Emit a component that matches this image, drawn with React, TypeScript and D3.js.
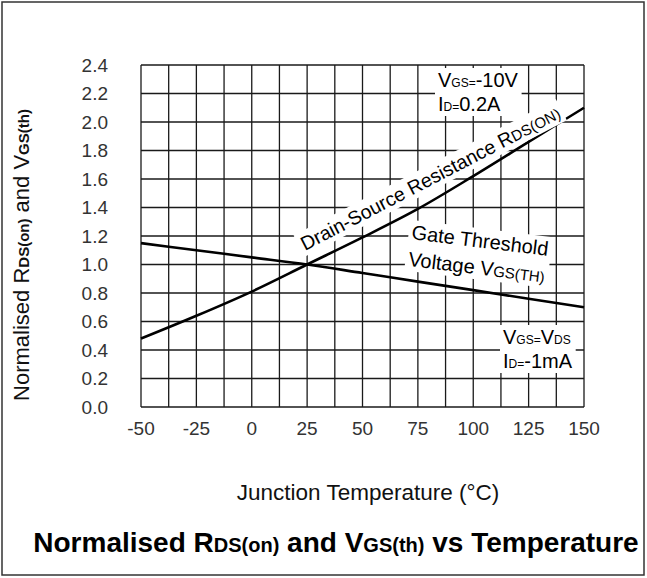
import { useRef, useEffect } from "react";
import * as d3 from "d3";

// temperature points (°C)
const temps = [-50, -25, 0, 25, 50, 75, 100, 125, 150];
// normalised Rds(on)
const rdsOn = [0.48, 0.64, 0.81, 1.0, 1.19, 1.39, 1.62, 1.86, 2.1];
// normalised Vgs(th)
const vgsTh = [1.15, 1.1, 1.05, 1.0, 0.94, 0.88, 0.82, 0.76, 0.7];

const xTicks = [-50, -25, 0, 25, 50, 75, 100, 125, 150];
const yTicks = [0, 0.2, 0.4, 0.6, 0.8, 1.0, 1.2, 1.4, 1.6, 1.8, 2.0, 2.2, 2.4];
const xGrid = d3.range(-50, 150.1, 12.5);

const W = 647;
const H = 578;
const left = 141, top = 65, right = 584, bottom = 407;
const font = "Liberation Sans, Arial, sans-serif";

export default function App() {
  const root = useRef<SVGSVGElement>(null);
  const x = d3.scaleLinear([-50, 150], [left, right]);
  const y = d3.scaleLinear([0, 2.4], [bottom, top]);
  const line = d3.line<number>().x((d, i) => x(temps[i])).y(d => y(d)).curve(d3.curveMonotoneX);

  // white boxes behind the annotations
  useEffect(() => {
    d3.select(root.current).selectAll<SVGGElement, unknown>("g.annot").each(function () {
      const g = d3.select(this);
      g.selectAll("rect.bg").remove();
      const txt = g.selectAll<SVGTextElement, unknown>("text").nodes();
      let x0 = Infinity, y0 = Infinity, x1 = -Infinity, y1 = -Infinity;
      txt.forEach(t => {
        const b = t.getBBox();
        x0 = Math.min(x0, b.x); y0 = Math.min(y0, b.y);
        x1 = Math.max(x1, b.x + b.width); y1 = Math.max(y1, b.y + b.height);
      });
      g.insert("rect", ":first-child").attr("class", "bg")
        .attr("x", x0 - 3).attr("y", y0 - 1)
        .attr("width", x1 - x0 + 6).attr("height", y1 - y0 + 2)
        .attr("fill", "#fff");
    });
  });

  return (
    <svg ref={root} width={W} height={H} style={{ position: "absolute", left: 0, top: 0 }} fontFamily={font}>
      <rect x={0} y={0} width={W} height={H} fill="#fff" />
      <rect x={2} y={2} width={W - 5} height={H - 5} fill="none" stroke="#333" strokeWidth={1.5} />

      {/* grid */}
      <g stroke="#1a1a1a" strokeWidth={1.3}>
        {xGrid.map(v => <line key={"gx" + v} x1={x(v)} x2={x(v)} y1={top} y2={bottom} />)}
        {yTicks.map(v => <line key={"gy" + v} x1={left} x2={right} y1={y(v)} y2={y(v)} />)}
      </g>

      {/* tick labels */}
      <g fontSize={19} fill="#333">
        {yTicks.map(v => (
          <text key={"ty" + v} x={108} y={y(v)} dy="0.35em" textAnchor="end">{d3.format(".1f")(v)}</text>
        ))}
        {xTicks.map(v => (
          <text key={"tx" + v} x={x(v)} y={435} textAnchor="middle">{v}</text>
        ))}
      </g>

      {/* curves */}
      <path d={line(rdsOn) ?? ""} fill="none" stroke="#000" strokeWidth={2.6} />
      <path d={line(vgsTh) ?? ""} fill="none" stroke="#000" strokeWidth={2.6} />

      {/* curve labels */}
      <g className="annot" transform="translate(305,251) rotate(-27.5)">
        <text x={0} y={0} fontSize={19.5} fill="#000">
          Drain-Source Resistance R<tspan fontSize={15}>DS(ON)</tspan>
        </text>
      </g>
      <g className="annot" transform="translate(411,239) rotate(7)">
        <text x={0} y={0} fontSize={20} fill="#000">Gate Threshold</text>
        <text x={0} y={27} fontSize={20} fill="#000">
          Voltage V<tspan fontSize={15}>GS(TH)</tspan>
        </text>
      </g>

      {/* conditions */}
      <g className="annot" fill="#000">
        <text x={438} y={87} fontSize={20}>V<tspan fontSize={12}>GS=</tspan>-10V</text>
        <text x={438} y={111} fontSize={20}>I<tspan fontSize={12}>D=</tspan>0.2A</text>
      </g>
      <g className="annot" fill="#000">
        <text x={503} y={344} fontSize={20}>V<tspan fontSize={12}>GS=</tspan>V<tspan fontSize={12}>DS</tspan></text>
        <text x={503} y={368} fontSize={20}>I<tspan fontSize={12}>D=</tspan>-1mA</text>
      </g>

      {/* axis titles */}
      <text transform="translate(29,255) rotate(-90)" textAnchor="middle" fontSize={22} fill="#111">
        Normalised R<tspan fontSize={15} fontWeight="bold">DS(on)</tspan> and V<tspan fontSize={15} fontWeight="bold">GS(th)</tspan>
      </text>
      <text x={368} y={500} textAnchor="middle" fontSize={22.5} fill="#111">Junction Temperature (°C)</text>

      <text x={336} y={552} textAnchor="middle" fontSize={28} fontWeight="bold" fill="#000">
        Normalised R<tspan fontSize={20}>DS(on)</tspan> and V<tspan fontSize={20}>GS(th)</tspan> vs Temperature
      </text>
    </svg>
  );
}
